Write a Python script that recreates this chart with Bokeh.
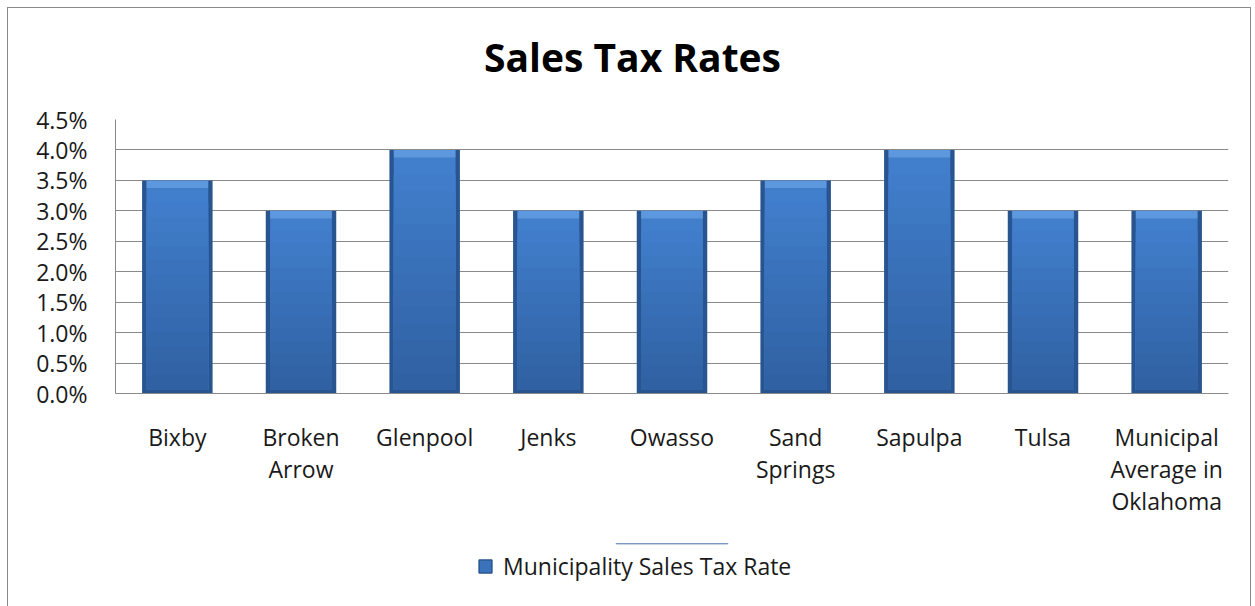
from bokeh.plotting import figure
from bokeh.models import (ColumnDataSource, NumeralTickFormatter, Legend, LegendItem,
                          FixedTicker, Range1d, Label)
from bokeh.layouts import column
from bokeh.embed import file_html
from bokeh.resources import INLINE

categories = ["Bixby", "Broken\nArrow", "Glenpool", "Jenks", "Owasso", "Sand\nSprings",
              "Sapulpa", "Tulsa", "Municipal\nAverage in\nOklahoma"]
rates = [0.035, 0.030, 0.040, 0.030, 0.030, 0.035, 0.040, 0.030, 0.030]
y_ticks = [0.0, 0.005, 0.010, 0.015, 0.020, 0.025, 0.030, 0.035, 0.040, 0.045]
series_name = "Municipality Sales Tax Rate"
title_text = "Sales Tax Rates"

FONT = "Open Sans"
W = 1242


def blank(h):
    f = figure(width=W, height=h, min_border=0, x_axis_location=None, y_axis_location=None,
               x_range=Range1d(0, 1), y_range=Range1d(0, 1),
               output_backend="svg", toolbar_location=None)
    f.grid.visible = False
    f.outline_line_color = None
    return f


# ---- title strip ----
top = blank(80)
top.add_layout(Label(x=517, y=32, x_units="screen", y_units="screen", text=title_text,
                     text_font=FONT, text_font_size="39px", text_font_style="bold",
                     text_color="#000000", text_align="center", text_baseline="middle"))

# ---- main chart ----
p = figure(x_range=categories, y_range=Range1d(0, 0.045),
           frame_width=1113, frame_height=274,
           min_border_left=107, min_border_right=22, min_border_top=31, min_border_bottom=150,
           output_backend="svg", toolbar_location=None)

bevel = 0.0013
outer = ColumnDataSource(dict(x=categories, top=rates))
p.vbar(x="x", top="top", bottom=0, width=0.57, source=outer, fill_color="#28548f", line_color=None)

n = 14
c_top = (0x42, 0x80, 0xce)
c_bot = (0x30, 0x60, 0xa2)
for k in range(n - 1, -1, -1):
    f1 = (k + 1) / n
    t = (k + 0.5) / n
    col = tuple(int(c_bot[i] + (c_top[i] - c_bot[i]) * t) for i in range(3))
    hexcol = "#%02x%02x%02x" % col
    src = ColumnDataSource(dict(
        x=categories,
        bottom=[0.0006 for r in rates],
        top=[0.0006 + (r - bevel - 0.0006) * f1 for r in rates]))
    p.vbar(x="x", top="top", bottom="bottom", width=0.50, source=src,
           fill_color=hexcol, line_color=None)

bev = ColumnDataSource(dict(x=categories, top=rates, bottom=[r - bevel for r in rates]))
p.vbar(x="x", top="top", bottom="bottom", width=0.50, source=bev, fill_color="#5d98de", line_color=None)

p.yaxis.ticker = FixedTicker(ticks=y_ticks)
p.yaxis.formatter = NumeralTickFormatter(format="0.0%")
p.yaxis.major_label_text_font = FONT
p.yaxis.major_label_text_font_size = "23px"
p.yaxis.major_label_text_color = "#1a1a1a"
p.yaxis.major_tick_line_color = None
p.yaxis.minor_tick_line_color = None
p.yaxis.axis_line_color = "#8a8a8a"
p.yaxis.major_label_standoff = 22

p.xaxis.major_label_text_font = FONT
p.xaxis.major_label_text_font_size = "23px"
p.xaxis.major_label_text_color = "#1a1a1a"
p.xaxis.major_label_text_line_height = 1.0
p.xaxis.major_tick_line_color = None
p.xaxis.axis_line_color = "#8a8a8a"
p.xaxis.major_label_standoff = 21

p.xgrid.grid_line_color = None
p.ygrid.grid_line_color = "#8a8a8a"
p.outline_line_color = None

# ---- legend strip ----
leg = blank(63)
key = leg.vbar(x=[0.5], top=[6], bottom=[5], width=0.1, fill_color="#3a72bc", line_color="#28548f",
               line_width=1.5)
legend = Legend(items=[LegendItem(label=series_name, renderers=[key])],
                location=(362, 24), orientation="horizontal",
                label_text_font=FONT, label_text_font_size="23px", label_text_color="#1a1a1a",
                glyph_width=16, glyph_height=16, label_standoff=10, padding=0,
                border_line_color=None, background_fill_alpha=0, margin=0)
leg.add_layout(legend, "center")

layout = column(top, p, leg, spacing=0)
layout.styles = {"border": "1px solid #8a8a8a", "margin-left": "7px", "margin-top": "7px"}

open("out.html", "w").write(file_html(layout, INLINE))
